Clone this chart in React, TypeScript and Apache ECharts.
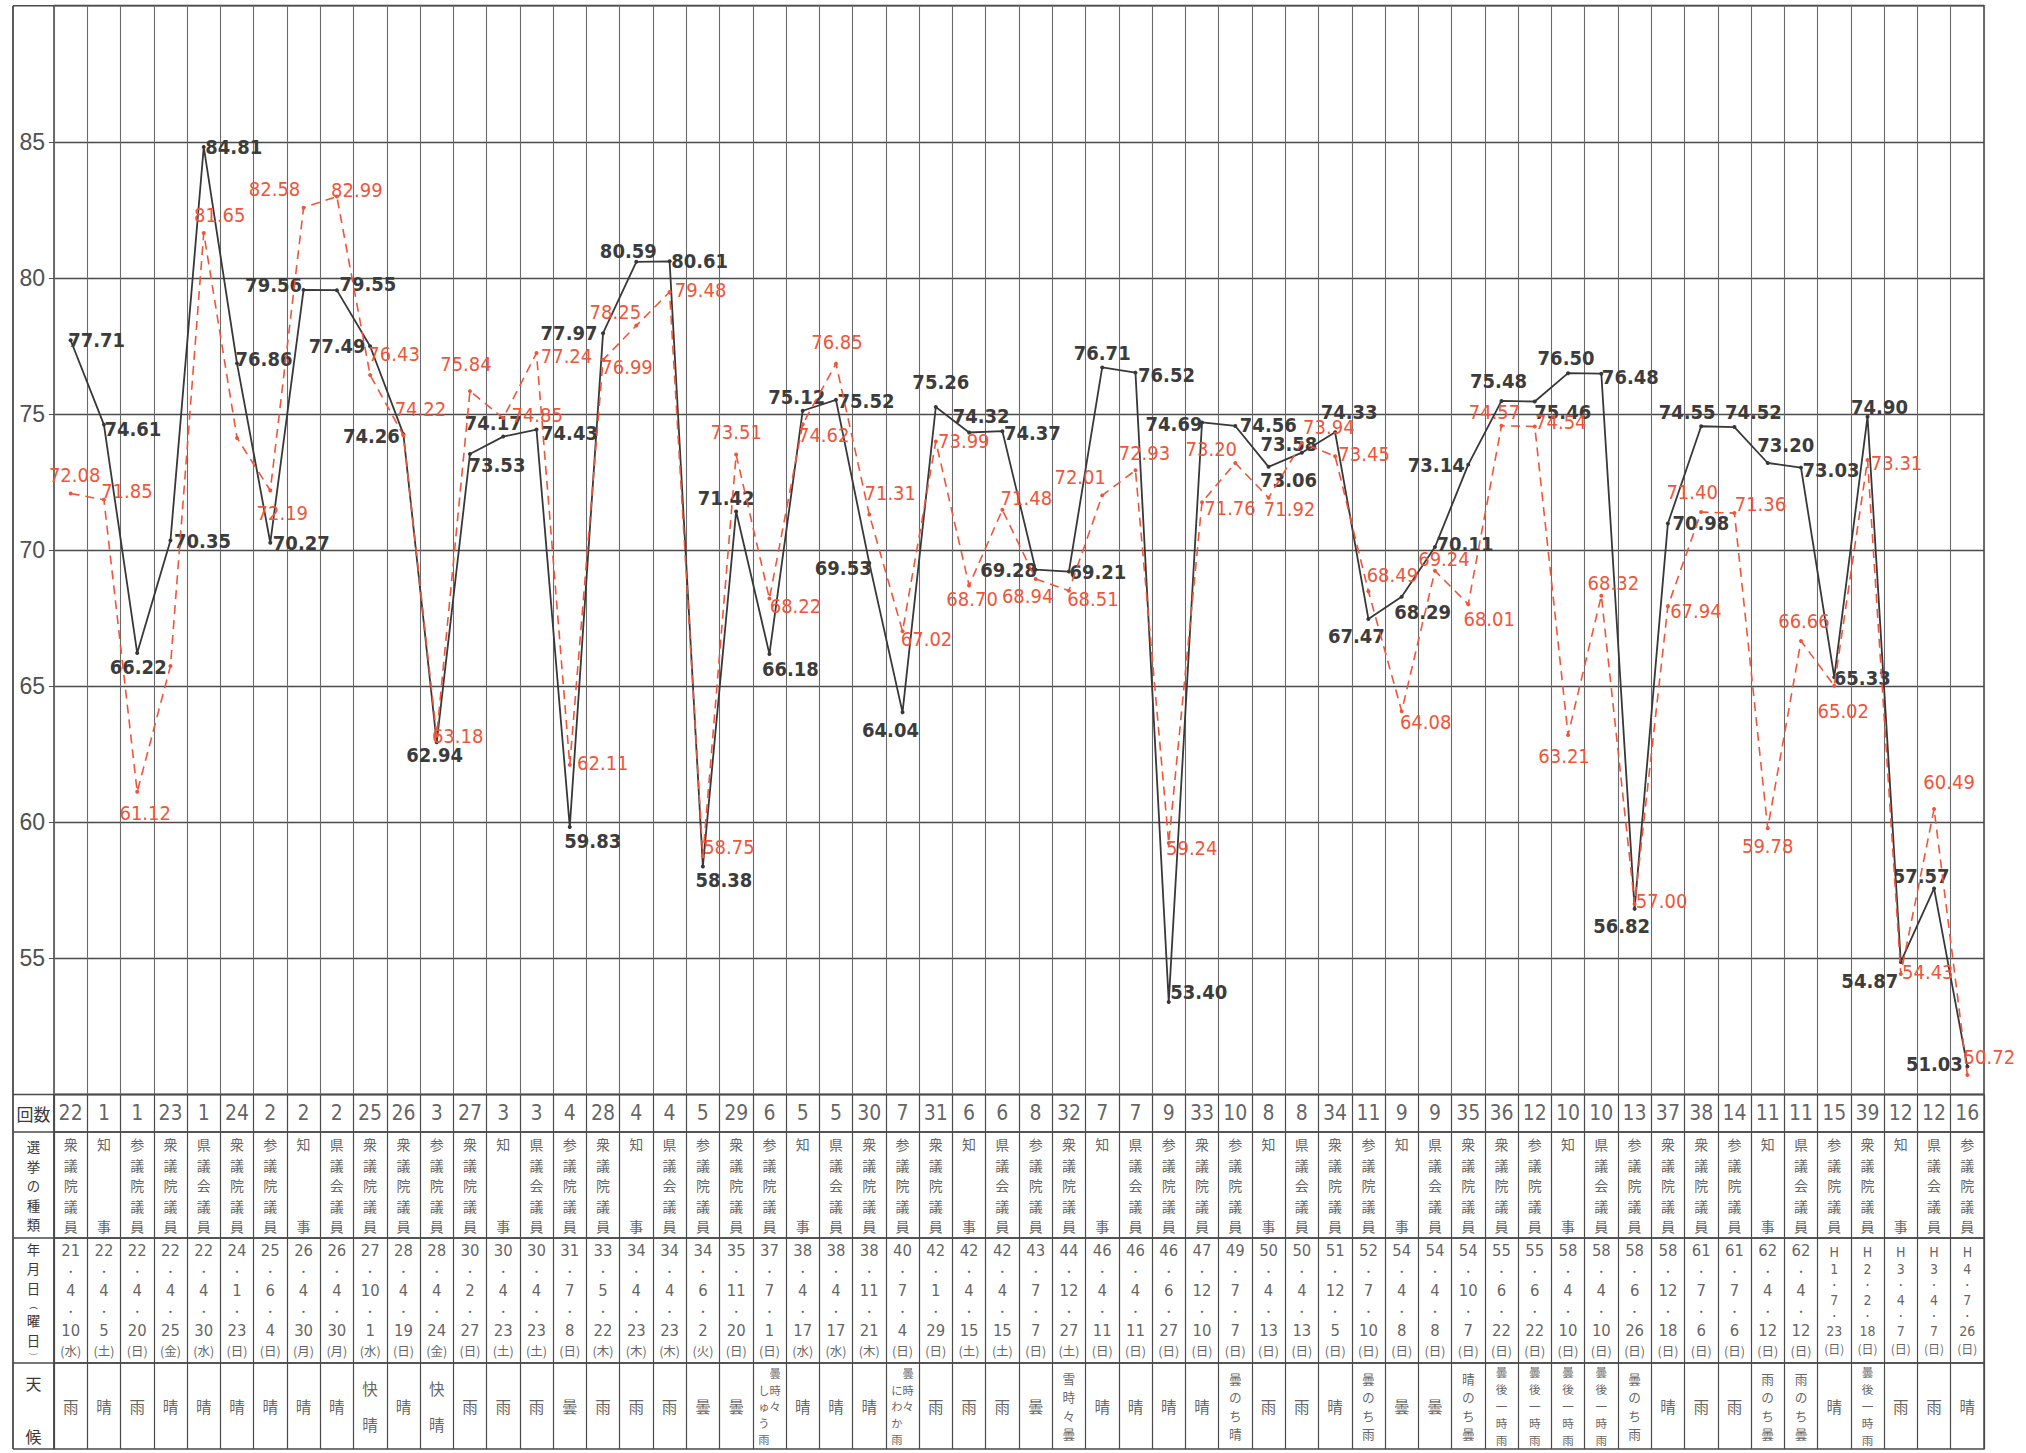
import React, { useEffect, useRef } from "react";
import * as echarts from "echarts";

// 回数
const terms = [22, 1, 1, 23, 1, 24, 2, 2, 2, 25, 26, 3, 27, 3, 3, 4, 28, 4, 4, 5, 29, 6, 5, 5, 30, 7, 31, 6, 6, 8, 32, 7, 7, 9, 33, 10, 8, 8, 34, 11, 9, 9, 35, 36, 12, 10, 10, 13, 37, 38, 14, 11, 11, 15, 39, 12, 12, 16];
// 選挙の種類
const types = [
  "衆議院議員", "知事", "参議院議員", "衆議院議員", "県議会議員", "衆議院議員", "参議院議員", "知事", "県議会議員", "衆議院議員",
  "衆議院議員", "参議院議員", "衆議院議員", "知事", "県議会議員", "参議院議員", "衆議院議員", "知事", "県議会議員", "参議院議員",
  "衆議院議員", "参議院議員", "知事", "県議会議員", "衆議院議員", "参議院議員", "衆議院議員", "知事", "県議会議員", "参議院議員",
  "衆議院議員", "知事", "県議会議員", "参議院議員", "衆議院議員", "参議院議員", "知事", "県議会議員", "衆議院議員", "参議院議員",
  "知事", "県議会議員", "衆議院議員", "衆議院議員", "参議院議員", "知事", "県議会議員", "参議院議員", "衆議院議員", "衆議院議員",
  "参議院議員", "知事", "県議会議員", "参議院議員", "衆議院議員", "知事", "県議会議員", "参議院議員",
];
// 年月日(曜日)
const years = ["21", "22", "22", "22", "22", "24", "25", "26", "26", "27", "28", "28", "30", "30", "30", "31", "33", "34", "34", "34", "35", "37", "38", "38", "38", "40", "42", "42", "42", "43", "44", "46", "46", "46", "47", "49", "50", "50", "51", "52", "54", "54", "54", "55", "55", "58", "58", "58", "58", "61", "61", "62", "62", "H1", "H2", "H3", "H3", "H4"];
const months = [4, 4, 4, 4, 4, 1, 6, 4, 4, 10, 4, 4, 2, 4, 4, 7, 5, 4, 4, 6, 11, 7, 4, 4, 11, 7, 1, 4, 4, 7, 12, 4, 4, 6, 12, 7, 4, 4, 12, 7, 4, 4, 10, 6, 6, 4, 4, 6, 12, 7, 7, 4, 4, 7, 2, 4, 4, 7];
const days = [10, 5, 20, 25, 30, 23, 4, 30, 30, 1, 19, 24, 27, 23, 23, 8, 22, 23, 23, 2, 20, 1, 17, 17, 21, 4, 29, 15, 15, 7, 27, 11, 11, 27, 10, 7, 13, 13, 5, 10, 8, 8, 7, 22, 22, 10, 10, 26, 18, 6, 6, 12, 12, 23, 18, 7, 7, 26];
const weekdays = ["水", "土", "日", "金", "水", "日", "日", "月", "月", "水", "日", "金", "日", "土", "土", "日", "木", "木", "木", "火", "日", "日", "水", "水", "木", "日", "日", "土", "土", "日", "土", "日", "日", "日", "日", "日", "日", "日", "日", "日", "日", "日", "日", "日", "日", "日", "日", "日", "日", "日", "日", "日", "日", "日", "日", "日", "日", "日"];
// 天候
const weather = [
  "雨", "晴", "雨", "晴", "晴", "晴", "晴", "晴", "晴", "快晴",
  "晴", "快晴", "雨", "雨", "雨", "曇", "雨", "雨", "雨", "曇",
  "曇", "曇時々しゅう雨", "晴", "晴", "晴", "曇時々にわか雨", "雨", "雨", "雨", "曇",
  "雪時々曇", "晴", "晴", "晴", "晴", "曇のち晴", "雨", "雨", "晴", "曇のち雨",
  "曇", "曇", "晴のち曇", "曇後一時雨", "曇後一時雨", "曇後一時雨", "曇後一時雨", "曇のち雨", "晴", "雨",
  "雨", "雨のち曇", "雨のち曇", "晴", "曇後一時雨", "雨", "雨", "晴",
];
// 投票率 (black solid)
const blackValues = [77.71, 74.61, 66.22, 70.35, 84.81, 76.86, 70.27, 79.56, 79.55, 77.49, 74.26, 62.94, 73.53, 74.17, 74.43, 59.83, 77.97, 80.59, 80.61, 58.38, 71.42, 66.18, 75.12, 75.52, 69.53, 64.04, 75.26, 74.32, 74.37, 69.28, 69.21, 76.71, 76.52, 53.4, 74.69, 74.56, 73.06, 73.58, 74.33, 67.47, 68.29, 70.11, 73.14, 75.48, 75.46, 76.5, 76.48, 56.82, 70.98, 74.55, 74.52, 73.2, 73.03, 65.33, 74.9, 54.87, 57.57, 51.03];
// 投票率 (red dashed)
const redValues = [72.08, 71.85, 61.12, 65.74, 81.65, 74.12, 72.19, 82.58, 82.99, 76.43, 74.22, 63.18, 75.84, 74.85, 77.24, 62.11, 76.99, 78.25, 79.48, 58.75, 73.51, 68.22, 74.62, 76.85, 71.31, 67.02, 73.99, 68.7, 71.48, 68.94, 68.51, 72.01, 72.93, 59.24, 71.76, 73.2, 71.92, 73.94, 73.45, 68.49, 64.08, 69.24, 68.01, 74.57, 74.54, 63.21, 68.32, 57.0, 67.94, 71.4, 71.36, 59.78, 66.66, 65.02, 73.31, 54.43, 60.49, 50.72];
const yTicks = [55, 60, 65, 70, 75, 80, 85];

// label placement (label centre relative to the point, px)
const blackLabelOffsets: number[][] = [
  [26, 0], [29, 4], [1, 14], [32, 0], [30, 0], [27, -4], [31, 0], [-30, -5], [31, -6], [-33, 0],
  [-32, 2], [-2, 13], [27, 11], [-10, -14], [33, 3], [23, 14], [-34, 0], [-8, -11], [30, 0], [21, 14],
  [-10, -13], [21, 15], [-6, -14], [30, 1], [-26, 5], [-12, 18], [5, -25], [12, -17], [30, 2], [-27, 0],
  [29, 0], [0, -14], [31, 2], [30, -10], [-28, 2], [33, -1], [20, 13], [-13, -9], [14, -20], [-12, 17],
  [21, 15], [30, -3], [-32, 0], [-3, -20], [28, 11], [-2, -15], [29, 3], [-13, 17], [33, 0], [-14, -14],
  [19, -15], [18, -18], [30, 2], [28, 1], [12, -10], [-31, 19], [-13, -12], [-33, -2],
];
const redLabelOffsets: (number[] | null)[] = [
  [4, -18], [23, -9], [8, 21], null, [16, -18], null, [12, 23], [-29, -19], [20, -7], [24, -21],
  [17, -26], [21, 0], [-4, -27], [34, -3], [30, 3], [33, -2], [24, 7], [-21, -14], [31, -2], [26, -9],
  [0, -23], [26, 7], [21, 11], [1, -22], [21, -21], [24, 8], [28, 0], [3, 14], [24, -12], [-8, 17],
  [24, 8], [-22, -18], [9, -17], [23, 5], [28, 6], [-24, -14], [21, 11], [27, -16], [29, -2], [24, -16],
  [24, 11], [9, -12], [21, 15], [-7, -14], [26, -5], [-4, 21], [12, -13], [27, -3], [28, 5], [-9, -20],
  [26, -9], [0, 18], [3, -20], [9, 25], [29, 3], [27, -2], [15, -27], [22, -18],
];

const NUM_FONT = "'Liberation Sans Narrow', 'Arial Narrow', 'DejaVu Sans Condensed', Roboto, sans-serif";
const JP_FONT = "'Noto Sans CJK JP', 'Noto Sans CJK SC', sans-serif";
const LINE = "#4a4a4a";
const VLINE = "#6a6a6a";
const TXT = "#3a3a3a";
const RED = "#f0553a";
const BLACK = "#383838";

const L = 54;
const W = 1930;
const PT = 5.7;
const PH = 1088.8;
const rowBoxes = [
  [1094.5, 37.5],
  [1132, 106],
  [1238, 125],
  [1363, 86],
];
const FL = 13; // frame left
const FB = 1449; // frame bottom

function typeText(t: string) {
  if (t === "知事") return "知\n\n\n\n事";
  return t.split("").join("\n");
}

function weatherItem(w: string) {
  if (w === "快晴") return { text: "快\n\n晴", fontSize: 15.5, lineHeight: 18 };
  if (w.length === 1) return { text: w, fontSize: 15.5, lineHeight: 20 };
  if (w.length <= 4) return { text: w.split("").join("\n"), fontSize: 12.7, lineHeight: 18.5 };
  if (w.length === 5) return { text: w.split("").join("\n"), fontSize: 11.6, lineHeight: 17 };
  const right = w.slice(0, 3).split("");
  const left = w.slice(3).split("");
  const lines = [
    "　" + right[0],
    left[0] + right[1],
    left[1] + right[2],
    left[2] + "　",
    (left[3] || "　") + "　",
  ];
  return { text: lines.join("\n"), fontSize: 11.3, lineHeight: 16.5 };
}

function dateText(i: number) {
  const y = years[i];
  if (y.startsWith("H")) {
    return `{n2|H}\n{n2|${y.slice(1)}}\n{d2|・}\n{n2|${months[i]}}\n{d2|・}\n{n2|${days[i]}}\n{w2|(${weekdays[i]})}`;
  }
  return `{n|${y}}\n{d|・}\n{n|${months[i]}}\n{d|・}\n{n|${days[i]}}\n{w|(${weekdays[i]})}`;
}

function buildOption() {
  const cats = terms.map((_, i) => String(i));
  const grids = [
    { left: L, top: PT, width: W, height: PH, show: true, borderColor: LINE, borderWidth: 1.6 },
    ...rowBoxes.map(([t, h]) => ({ left: L, top: t, width: W, height: h, show: true, borderColor: LINE, borderWidth: 1.5 })),
  ];
  const xAxes = grids.map((_, gi) => ({
    type: "category",
    gridIndex: gi,
    data: cats,
    boundaryGap: true,
    axisLine: { show: false },
    axisTick: { show: false },
    axisLabel: { show: false },
    splitLine: { show: true, interval: 0, lineStyle: { color: gi === 0 ? VLINE : LINE, width: gi === 0 ? 1.1 : 1.2 } },
  }));
  const yAxes: any[] = [
    {
      type: "value",
      gridIndex: 0,
      min: 50,
      max: 90,
      interval: 5,
      axisLine: { show: false },
      axisTick: { show: true, length: 5, lineStyle: { color: LINE } },
      axisLabel: {
        formatter: (v: number) => (yTicks.includes(v) ? String(v) : ""),
        fontSize: 23,
        color: "#505050",
        margin: 9,
        fontFamily: "'Liberation Sans', Arial, sans-serif",
      },
      splitLine: { show: true, lineStyle: { color: LINE, width: 1.3 } },
    },
    ...rowBoxes.map((_, i) => ({ type: "value", gridIndex: i + 1, min: 0, max: 1, show: false })),
  ];

  const blackData = blackValues.map((v, i) => ({
    value: v,
    label: { offset: blackLabelOffsets[i] },
  }));
  const redData = redValues.map((v, i) => {
    const off = redLabelOffsets[i];
    return off ? { value: v, label: { offset: off } } : { value: v, label: { show: false } };
  });

  const cellSeries = (gi: number, items: any[], extra: any) => ({
    type: "scatter",
    xAxisIndex: gi,
    yAxisIndex: gi,
    symbolSize: 1,
    itemStyle: { color: "rgba(0,0,0,0)" },
    silent: true,
    data: items,
    label: {
      show: true,
      position: "inside",
      color: TXT,
      align: "center",
      verticalAlign: "middle",
      ...extra,
    },
  });

  const series: any[] = [
    {
      type: "line",
      name: "black",
      xAxisIndex: 0,
      yAxisIndex: 0,
      data: blackData,
      showAllSymbol: true,
      symbol: "circle",
      symbolSize: 4,
      itemStyle: { color: BLACK },
      lineStyle: { color: BLACK, width: 1.8 },
      z: 3,
      label: {
        show: true,
        position: "inside",
        formatter: (p: any) => Number(p.value).toFixed(2),
        fontFamily: NUM_FONT,
        fontSize: 20,
        fontWeight: "bold",
        color: "#3c3c3c",
      },
    },
    {
      type: "line",
      name: "red",
      xAxisIndex: 0,
      yAxisIndex: 0,
      data: redData,
      showAllSymbol: true,
      symbol: "circle",
      symbolSize: 4,
      itemStyle: { color: RED },
      lineStyle: { color: RED, width: 1.6, type: [9, 6] },
      z: 4,
      label: {
        show: true,
        position: "inside",
        formatter: (p: any) => Number(p.value).toFixed(2),
        fontFamily: NUM_FONT,
        fontSize: 20,
        color: RED,
      },
    },
    cellSeries(
      1,
      terms.map((_, i) => [i, 0.5]),
      { formatter: (p: any) => String(terms[p.dataIndex]), fontSize: 21, fontFamily: NUM_FONT }
    ),
    cellSeries(
      2,
      types.map((_, i) => [i, 0.5]),
      { formatter: (p: any) => typeText(types[p.dataIndex]), fontSize: 14, lineHeight: 20.5, fontFamily: JP_FONT }
    ),
    cellSeries(
      3,
      years.map((_, i) => [i, 0.5]),
      {
        formatter: (p: any) => dateText(p.dataIndex),
        fontFamily: NUM_FONT,
        rich: {
          n: { fontSize: 16.5, lineHeight: 20, fontFamily: NUM_FONT, color: TXT },
          d: { fontSize: 11, lineHeight: 20, fontFamily: JP_FONT, color: TXT },
          w: { fontSize: 12.5, lineHeight: 20, fontFamily: JP_FONT, color: TXT },
          n2: { fontSize: 14, lineHeight: 17, fontFamily: NUM_FONT, color: TXT },
          d2: { fontSize: 9, lineHeight: 14, fontFamily: JP_FONT, color: TXT },
          w2: { fontSize: 12, lineHeight: 18, fontFamily: JP_FONT, color: TXT },
        },
      }
    ),
    cellSeries(
      4,
      weather.map((w, i) => {
        const it = weatherItem(w);
        return { value: [i, 0.5], label: { fontSize: it.fontSize, lineHeight: it.lineHeight } };
      }),
      { formatter: (p: any) => weatherItem(weather[p.dataIndex]).text, fontFamily: JP_FONT }
    ),
  ];

  const hdr = (text: string, y: number, extra: any = {}) => ({
    type: "text",
    x: (FL + L) / 2,
    y,
    silent: true,
    style: {
      text,
      fill: TXT,
      font: `16px ${JP_FONT}`,
      align: "center",
      verticalAlign: "middle",
      ...extra,
    },
  });
  const hline = (y: number) => ({
    type: "line",
    silent: true,
    shape: { x1: FL, y1: y, x2: L, y2: y },
    style: { stroke: LINE, lineWidth: 1.5 },
  });

  const graphic: any[] = [
    { type: "line", silent: true, shape: { x1: FL, y1: PT, x2: FL, y2: FB }, style: { stroke: LINE, lineWidth: 1.8 } },
    hline(PT),
    hline(1094.5),
    hline(1132),
    hline(1238),
    hline(1363),
    hline(FB),
    { type: "line", silent: true, shape: { x1: L, y1: 1094.5, x2: L, y2: FB }, style: { stroke: LINE, lineWidth: 1.5 } },
    hdr("回数", 1113.5, { font: `17px ${JP_FONT}` }),
    hdr("選\n挙\nの\n種\n類", 1185, { font: `13.4px ${JP_FONT}`, lineHeight: 19.5 }),
    {
      type: "text",
      x: (FL + L) / 2,
      y: 1300.5,
      silent: true,
      style: {
        text: "{a|年}\n{a|月}\n{a|日}\n{p|︵}\n{a|曜}\n{a|日}\n{p|︶}",
        align: "center",
        verticalAlign: "middle",
        rich: {
          a: { fontSize: 13.4, lineHeight: 19.5, fontFamily: JP_FONT, fill: TXT },
          p: { fontSize: 8.5, lineHeight: 13, fontFamily: JP_FONT, fill: TXT },
        },
      },
    },
    hdr("天", 1383, { font: `16px ${JP_FONT}` }),
    hdr("候", 1436, { font: `16px ${JP_FONT}` }),
  ];

  return {
    animation: false,
    backgroundColor: "#ffffff",
    grid: grids,
    xAxis: xAxes,
    yAxis: yAxes,
    series,
    graphic,
  };
}

export default function App() {
  const ref = useRef<HTMLDivElement>(null);
  useEffect(() => {
    if (!ref.current) return;
    const chart = echarts.init(ref.current, null, { renderer: "svg" });
    chart.setOption(buildOption() as any);
    return () => chart.dispose();
  }, []);
  return (
    <div
      ref={ref}
      style={{ position: "absolute", left: 0, top: 0, width: 2026, height: 1453, background: "#fff" }}
    />
  );
}
